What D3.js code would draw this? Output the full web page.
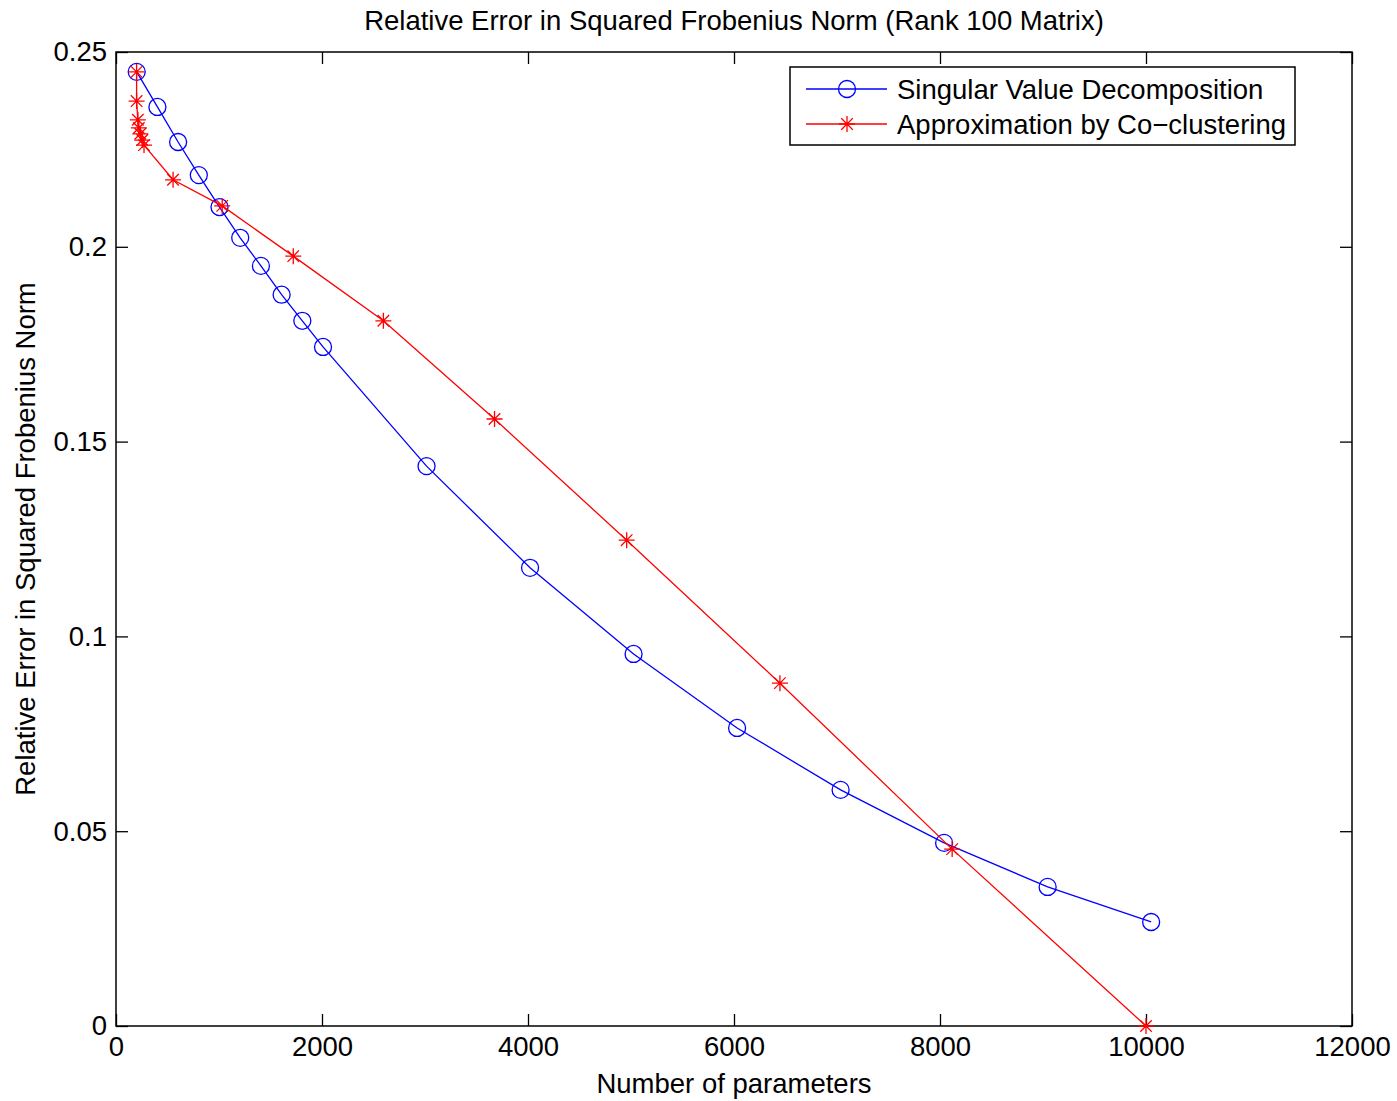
<!DOCTYPE html>
<meta charset="utf-8">
<style>
  body { margin: 0; background: #fff; }
  text { font-family: "Liberation Sans", Arial, sans-serif; fill: #000; }
</style>
<script src="https://d3js.org/d3.v7.min.js"></script>
<div id="chart"></div>
<script>

// data
var svdX = [201, 402, 603, 804, 1005, 1206, 1407, 1608, 1809, 2010, 3015, 4020, 5025, 6030, 7035, 8040, 9045, 10050];
var svdY = [0.2449, 0.2359, 0.2269, 0.2184, 0.2102, 0.2023, 0.1951, 0.1877, 0.1810, 0.1743, 0.1437, 0.1176, 0.0955, 0.0765, 0.0606, 0.0470, 0.0357, 0.0267];

var cocX = [200, 200, 212, 222, 236, 255, 272, 554, 1031, 1721, 2596, 3675, 4958, 6446, 8118, 10000];
var cocY = [0.2449, 0.2374, 0.2326, 0.2305, 0.2290, 0.2274, 0.2261, 0.2172, 0.2105, 0.1976, 0.1810, 0.1558, 0.1247, 0.0880, 0.0454, 0.0];

var xTicks = [0, 2000, 4000, 6000, 8000, 10000, 12000];
var yTicks = [0, 0.05, 0.1, 0.15, 0.2, 0.25];
var legendNames = ["Singular Value Decomposition", "Approximation by Co\u2212clustering"];

var W = 1397, H = 1101;
var margin = {top: 52, right: 45, bottom: 75, left: 116};
var width = W - margin.left - margin.right,
    height = H - margin.top - margin.bottom;
var fs = "27.5px";

var svg = d3.select("#chart")
  .append("svg")
    .attr("width", W)
    .attr("height", H);

var g = svg.append("g")
  .attr("transform", "translate(" + margin.left + "," + margin.top + ")");

var x = d3.scaleLinear().domain([0, 12000]).range([0, width]);
var y = d3.scaleLinear().domain([0, 0.25]).range([height, 0]);

// axes, ticks pointing inward on all four sides
var tickLen = 12;
g.append("g")
  .attr("transform", "translate(0," + height + ")")
  .call(d3.axisBottom(x).tickValues(xTicks).tickSizeInner(-tickLen).tickSizeOuter(0).tickPadding(10).tickFormat(d3.format("d")));
g.append("g")
  .call(d3.axisTop(x).tickValues(xTicks).tickSizeInner(-tickLen).tickSizeOuter(0).tickFormat(""));
g.append("g")
  .call(d3.axisLeft(y).tickValues(yTicks).tickSizeInner(-tickLen).tickSizeOuter(0).tickPadding(9).tickFormat(function(d) { return d === 0 ? "0" : String(+d.toFixed(2)); }));
g.append("g")
  .attr("transform", "translate(" + width + ",0)")
  .call(d3.axisRight(y).tickValues(yTicks).tickSizeInner(-tickLen).tickSizeOuter(0).tickFormat(""));

g.selectAll(".domain").remove();
g.selectAll(".tick line").attr("stroke", "#000").attr("stroke-width", 1.3);
g.selectAll(".tick text").style("font-size", fs).attr("fill", "#000");

g.append("rect")
  .attr("width", width).attr("height", height)
  .attr("fill", "none").attr("stroke", "#000").attr("stroke-width", 1.5);

// series
var line = d3.line().x(function(d) { return x(d[0]); }).y(function(d) { return y(d[1]); });
var svd = svdX.map(function(v, i) { return [v, svdY[i]]; });
var coc = cocX.map(function(v, i) { return [v, cocY[i]]; });

function star(cx, cy, r) {
  var d = r * 0.72;
  return "M" + (cx - r) + "," + cy + "H" + (cx + r) +
         "M" + cx + "," + (cy - r) + "V" + (cy + r) +
         "M" + (cx - d) + "," + (cy - d) + "L" + (cx + d) + "," + (cy + d) +
         "M" + (cx - d) + "," + (cy + d) + "L" + (cx + d) + "," + (cy - d);
}

g.append("path").datum(svd).attr("d", line)
  .attr("fill", "none").attr("stroke", "#0000ff").attr("stroke-width", 1.3);
g.selectAll(".svd").data(svd).enter().append("circle")
  .attr("cx", function(d) { return x(d[0]); })
  .attr("cy", function(d) { return y(d[1]); })
  .attr("r", 8.5)
  .attr("fill", "none").attr("stroke", "#0000ff").attr("stroke-width", 1.3);

g.append("path").datum(coc).attr("d", line)
  .attr("fill", "none").attr("stroke", "#ff0000").attr("stroke-width", 1.3);
g.selectAll(".coc").data(coc).enter().append("path")
  .attr("d", function(d) { return star(x(d[0]), y(d[1]), 8); })
  .attr("fill", "none").attr("stroke", "#ff0000").attr("stroke-width", 1.3);

// legend
var leg = svg.append("g").attr("transform", "translate(790,67)");
leg.append("rect").attr("width", 505).attr("height", 78)
  .attr("fill", "#fff").attr("stroke", "#000").attr("stroke-width", 1.5);
[0, 1].forEach(function(i) {
  var yy = 22 + i * 35;
  var col = i === 0 ? "#0000ff" : "#ff0000";
  leg.append("line").attr("x1", 16).attr("x2", 97).attr("y1", yy).attr("y2", yy)
    .attr("stroke", col).attr("stroke-width", 1.3);
  if (i === 0) {
    leg.append("circle").attr("cx", 57).attr("cy", yy).attr("r", 8.5)
      .attr("fill", "none").attr("stroke", col).attr("stroke-width", 1.3);
  } else {
    leg.append("path").attr("d", star(57, yy, 8))
      .attr("fill", "none").attr("stroke", col).attr("stroke-width", 1.3);
  }
  leg.append("text").attr("x", 107).attr("y", yy).attr("dy", "0.35em")
    .style("font-size", fs).text(legendNames[i]);
});

// labels
svg.append("text")
  .attr("x", margin.left + width / 2).attr("y", 30)
  .attr("text-anchor", "middle").style("font-size", fs)
  .text("Relative Error in Squared Frobenius Norm (Rank 100 Matrix)");

svg.append("text")
  .attr("x", margin.left + width / 2).attr("y", 1093)
  .attr("text-anchor", "middle").style("font-size", fs)
  .text("Number of parameters");

svg.append("text")
  .attr("transform", "translate(35," + (margin.top + height / 2) + ") rotate(-90)")
  .attr("text-anchor", "middle").style("font-size", fs)
  .text("Relative Error in Squared Frobenius Norm");

</script>
